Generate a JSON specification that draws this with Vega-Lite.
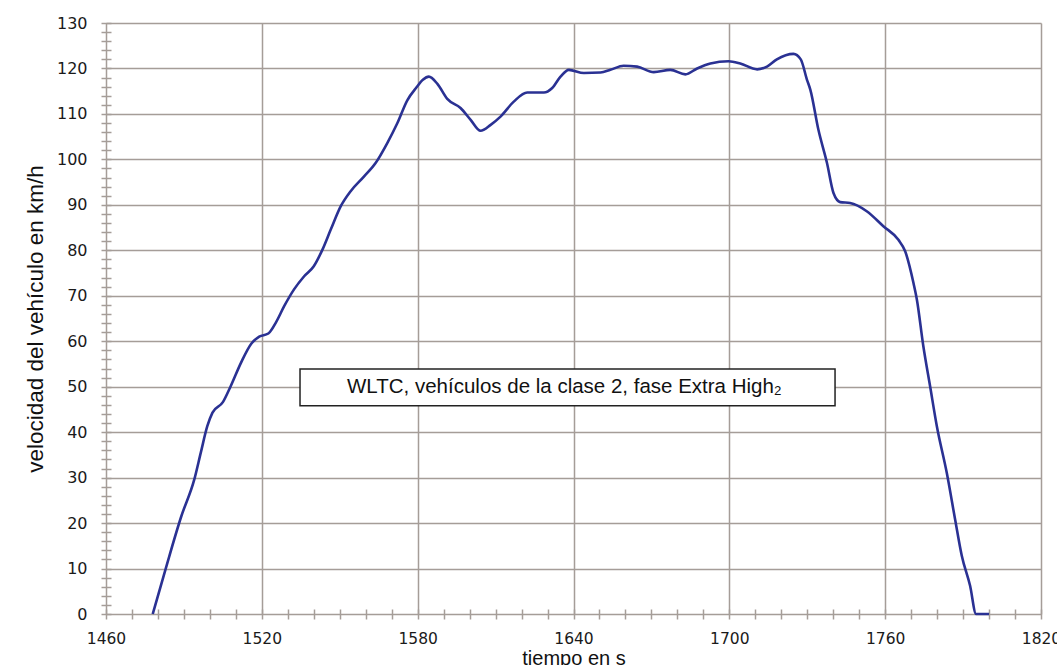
{
  "$schema": "https://vega.github.io/schema/vega-lite/v6.json",
  "width": 935,
  "height": 591,
  "autosize": {"type": "none"},
  "padding": {"left": 106, "top": 23, "right": 16, "bottom": 51},
  "background": "white",
  "view": {"stroke": null},
  "config": {
    "axis": {
      "gridColor": "#a59d98",
      "gridWidth": 1.5,
      "tickColor": "#a59d98",
      "tickWidth": 1.5,
      "labelColor": "#1a1a1a",
      "labelFont": "DejaVu Sans",
      "labelFontSize": 15.5,
      "titleFont": "Liberation Sans",
      "titleFontWeight": "normal",
      "titleColor": "#111111",
      "titleFontSize": 20
    }
  },
  "datasets": {
    "speed": [
      {"t": 1478, "v": 0}, {"t": 1483, "v": 10}, {"t": 1489, "v": 21.5}, {"t": 1494, "v": 29.6},
      {"t": 1496.5, "v": 35.5}, {"t": 1499, "v": 41.3}, {"t": 1501, "v": 44.3}, {"t": 1505, "v": 46.6},
      {"t": 1508, "v": 50.1}, {"t": 1512, "v": 55.3}, {"t": 1516, "v": 59.5}, {"t": 1519, "v": 61},
      {"t": 1522.5, "v": 61.7}, {"t": 1525.5, "v": 64.2}, {"t": 1528.6, "v": 67.7}, {"t": 1532.4, "v": 71.4},
      {"t": 1536.3, "v": 74.3}, {"t": 1540, "v": 76.5}, {"t": 1543.3, "v": 80.1}, {"t": 1546.5, "v": 84.5},
      {"t": 1550.4, "v": 89.7}, {"t": 1554.2, "v": 93}, {"t": 1559.3, "v": 96.2}, {"t": 1563.8, "v": 99.2},
      {"t": 1568.3, "v": 103.6}, {"t": 1572.2, "v": 108}, {"t": 1576, "v": 113}, {"t": 1579.5, "v": 115.8},
      {"t": 1582, "v": 117.5}, {"t": 1584.3, "v": 118.2}, {"t": 1587.6, "v": 116.6}, {"t": 1591.4, "v": 113.3},
      {"t": 1596.5, "v": 111.3}, {"t": 1600.4, "v": 108.7}, {"t": 1604.2, "v": 106.3}, {"t": 1608.1, "v": 107.6},
      {"t": 1611.9, "v": 109.4}, {"t": 1617, "v": 112.7}, {"t": 1622.2, "v": 114.7}, {"t": 1628.6, "v": 114.7},
      {"t": 1631.8, "v": 115.7}, {"t": 1635, "v": 118.2}, {"t": 1638.2, "v": 119.7}, {"t": 1644, "v": 119},
      {"t": 1650.4, "v": 119.1}, {"t": 1654.2, "v": 119.7}, {"t": 1659.3, "v": 120.6}, {"t": 1664.5, "v": 120.4},
      {"t": 1670.9, "v": 119.2}, {"t": 1677.3, "v": 119.7}, {"t": 1683.1, "v": 118.7}, {"t": 1687.6, "v": 120},
      {"t": 1692.7, "v": 121.1}, {"t": 1699.7, "v": 121.6}, {"t": 1704.2, "v": 121.1}, {"t": 1710.7, "v": 119.8},
      {"t": 1714.5, "v": 120.4}, {"t": 1718.3, "v": 122}, {"t": 1724.7, "v": 123.2}, {"t": 1727.5, "v": 122},
      {"t": 1729.9, "v": 117.5}, {"t": 1731.2, "v": 115.3}, {"t": 1734.3, "v": 106.5}, {"t": 1737.6, "v": 99.2},
      {"t": 1740.1, "v": 92.6}, {"t": 1742.7, "v": 90.6}, {"t": 1746.5, "v": 90.4}, {"t": 1752.9, "v": 88.6},
      {"t": 1759.3, "v": 85.3}, {"t": 1765.1, "v": 82.3}, {"t": 1767.7, "v": 79.8}, {"t": 1770.9, "v": 72.8},
      {"t": 1772.2, "v": 69.2}, {"t": 1774.7, "v": 58.9}, {"t": 1777.3, "v": 50.1}, {"t": 1779.9, "v": 41.3},
      {"t": 1783.7, "v": 31.1}, {"t": 1786.9, "v": 20.9}, {"t": 1789.5, "v": 12.8}, {"t": 1792.7, "v": 6.2},
      {"t": 1795, "v": 0}, {"t": 1800, "v": 0}
    ],
    "note": [
      {"t": 1534.7, "t2": 1740.7, "v": 45.8, "v2": 53.9, "tc": 1636.5, "vc": 49.9, "label": "WLTC, vehículos de la clase 2, fase Extra High₂"}
    ]
  },
  "layer": [
    {
      "data": {"name": "speed"},
      "mark": {"type": "line", "color": "#2a3193", "strokeWidth": 2.6, "interpolate": "monotone"},
      "encoding": {
        "x": {
          "field": "t", "type": "quantitative",
          "scale": {"domain": [1460, 1820], "nice": false, "zero": false},
          "axis": {
            "title": "tiempo en s",
            "values": [1460,1470,1480,1490,1500,1510,1520,1530,1540,1550,1560,1570,1580,1590,1600,1610,1620,1630,1640,1650,1660,1670,1680,1690,1700,1710,1720,1730,1740,1750,1760,1770,1780,1790,1800,1810,1820],
            "tickCount": 200,
            "format": "d",
            "labelExpr": "(datum.value - 1460) % 60 === 0 ? datum.label : ''",
            "labelOverlap": false,
            "labelFlush": false,
            "grid": true,
            "gridOpacity": {"condition": {"test": "(datum.value - 1460) % 60 === 0", "value": 1}, "value": 0},
            "domain": false,
            "offset": -5,
            "tickSize": 10,
            "labelPadding": 12,
            "titlePadding": 2
          }
        },
        "y": {
          "field": "v", "type": "quantitative",
          "scale": {"domain": [0, 130], "nice": false},
          "axis": {
            "title": "velocidad del vehículo en km/h",
            "titleFontSize": 22.5,
            "values": [0,2,4,6,8,10,12,14,16,18,20,22,24,26,28,30,32,34,36,38,40,42,44,46,48,50,52,54,56,58,60,62,64,66,68,70,72,74,76,78,80,82,84,86,88,90,92,94,96,98,100,102,104,106,108,110,112,114,116,118,120,122,124,126,128,130],
            "tickCount": 200,
            "format": "d",
            "labelExpr": "datum.value % 10 === 0 ? datum.label : ''",
            "labelOverlap": false,
            "labelFlush": false,
            "labelFontSize": 16,
            "grid": true,
            "gridOpacity": {"condition": {"test": "datum.value % 10 === 0", "value": 1}, "value": 0},
            "domain": false,
            "offset": -5,
            "tickSize": 10,
            "labelPadding": 14,
            "titlePadding": 9
          }
        }
      }
    },
    {
      "data": {"name": "note"},
      "mark": {"type": "rect", "fill": "white", "stroke": "#222222", "strokeWidth": 1.5},
      "encoding": {
        "x": {"field": "t", "type": "quantitative"},
        "x2": {"field": "t2"},
        "y": {"field": "v", "type": "quantitative"},
        "y2": {"field": "v2"}
      }
    },
    {
      "data": {"name": "note"},
      "mark": {"type": "text", "font": "Liberation Sans", "fontSize": 20.5, "color": "#111111", "align": "center", "baseline": "middle"},
      "encoding": {
        "x": {"field": "tc", "type": "quantitative"},
        "y": {"field": "vc", "type": "quantitative"},
        "text": {"field": "label"}
      }
    }
  ]
}
